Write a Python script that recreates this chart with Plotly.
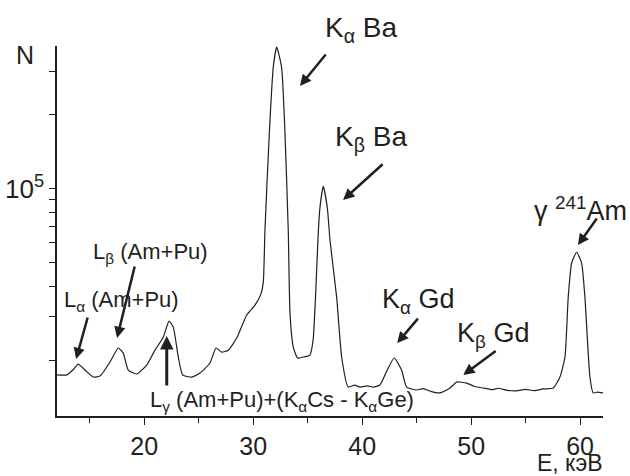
import plotly.graph_objects as go

# Spectrum: energy (keV) and counts
energy = [12.0, 12.9, 13.5, 13.95, 14.57, 15.33, 15.94, 16.86, 17.3, 17.62, 18.08, 18.54, 19.31,
          20.23, 20.99, 21.75, 22.28, 22.67, 23.13, 23.53, 24.36, 25.12, 26.04, 26.59, 27.11,
          27.72, 28.49, 29.40, 30.17, 30.7, 30.93, 31.08, 31.48, 31.84, 32.16, 32.61, 32.92,
          33.22, 33.38, 33.68, 34.08, 34.60, 35.21, 35.5, 35.72, 35.97, 36.13, 36.43, 36.80,
          37.05, 37.66, 38.12, 38.72, 39.3, 39.80, 40.5, 41.0, 41.63, 42.30, 42.94, 43.62,
          44.08, 45.00, 45.6, 46.3, 47.14, 48.0, 48.67, 49.59, 50.3, 51.11, 52.0, 52.5, 53.3,
          54.17, 55.0, 55.8, 56.6, 57.53, 58.15, 58.61, 58.91, 59.22, 59.68, 60.14, 60.44,
          60.90, 61.20, 61.6, 62.12]
counts = [17400, 17400, 18300, 19260, 18200, 17050, 17200, 19640, 21300, 22390, 21330, 18200, 17540,
          19060, 21940, 24770, 28800, 27230, 20570, 17380, 17050, 17700, 19450, 22390, 21530,
          21940, 24570, 30450, 33450, 37000, 41500, 67420, 167400, 310500, 376000, 310500, 167400,
          67420, 31040, 22580, 20380, 20570, 20940, 24120, 36060, 65680, 83740, 101900, 83740,
          61500, 36060, 20570, 15520, 15800, 15520, 15700, 15500, 15810, 18200, 20380, 18200,
          15520, 15100, 15300, 14900, 14690, 15300, 16260, 16110, 15600, 15380, 15150, 15350, 15050,
          14970, 15200, 15000, 15250, 15380, 17050, 20570, 36060, 49550, 54950, 49550, 36060,
          17050, 14690, 14800, 14690]

y_tick_vals = [20000, 30000, 40000, 50000, 60000, 70000, 80000, 90000, 100000, 200000, 300000]
y_tick_text = ["", "", "", "", "", "", "", "", "10<sup>5</sup>", "", ""]
x_tick_vals = [20, 30, 40, 50, 60]

ink = "#231f20"
font = "Liberation Sans, Arial, sans-serif"

fig = go.Figure()
fig.add_trace(go.Scatter(x=energy, y=counts, mode="lines",
                         line=dict(color=ink, width=1.2, shape="spline", smoothing=0.5),
                         hoverinfo="skip", showlegend=False))

fig.update_layout(
    width=630, height=476,
    margin=dict(l=57, r=27, t=46, b=60),
    paper_bgcolor="white", plot_bgcolor="white",
    font=dict(family=font, color=ink, size=26),
    showlegend=False,
)
fig.update_xaxes(range=[12, 62.1], tickvals=x_tick_vals, ticks="outside", ticklen=7,
                 tickwidth=1.3, tickcolor=ink, showline=True, linecolor=ink, linewidth=1.5,
                 showgrid=False, zeroline=False, tickfont=dict(size=25), automargin=False,
                 minor=dict(tickvals=[15, 25, 35, 45, 55], ticks="outside", ticklen=5,
                            tickwidth=1.3, tickcolor=ink))
fig.update_yaxes(type="log", range=[4.073, 5.58], tickvals=y_tick_vals, ticktext=y_tick_text,
                 ticks="outside", ticklen=6, tickwidth=1.3, tickcolor=ink, showline=True,
                 linecolor=ink, linewidth=1.5, showgrid=False, zeroline=False,
                 tickfont=dict(size=26), automargin=False)

def label(text, x, y, size, anchor="left"):
    fig.add_annotation(text=text, x=x, y=y, xref="paper", yref="paper", xanchor=anchor,
                       yanchor="middle", showarrow=False, font=dict(size=size, color=ink))

def arrow(x, y, ax, ay, w=2.5):
    fig.add_annotation(text="", x=x, y=y, xref="paper", yref="paper", ax=ax, ay=ay,
                       showarrow=True, arrowhead=2, arrowsize=0.9, arrowwidth=w,
                       arrowcolor=ink, standoff=0, startstandoff=0)

label("K<sub>α</sub> Ba", 0.487, 1.045, 28)
label("K<sub>β</sub> Ba", 0.505, 0.75, 28)
label("γ <sup>241</sup>Am", 1.047, 0.56, 27, anchor="right")
label("K<sub>α</sub> Gd", 0.591, 0.31, 27)
label("K<sub>β</sub> Gd", 0.729, 0.218, 27)
label("L<sub>α</sub> (Am+Pu)", 0.01, 0.31, 22)
label("L<sub>β</sub> (Am+Pu)", 0.062, 0.44, 22)
label("L<sub>γ</sub> (Am+Pu)+(K<sub>α</sub>Cs - K<sub>α</sub>Ge)", 0.166, 0.04, 22)

arrow(0.445, 0.892, 27, -33)
arrow(0.524, 0.584, 41, -37)
arrow(0.954, 0.462, 20, -28)
arrow(0.623, 0.197, 22, -26)
arrow(0.744, 0.111, 34, -25)
arrow(0.035, 0.154, 12, -43)
arrow(0.110, 0.211, 18, -73)
arrow(0.201, 0.216, 0, 51, 3)

fig.add_annotation(text="N", x=-0.058, y=0.975, xref="paper", yref="paper", xanchor="center",
                   yanchor="middle", showarrow=False, font=dict(size=25, color=ink))
fig.add_annotation(text="E, кэВ", x=1.004, y=-0.127, xref="paper", yref="paper", xanchor="right",
                   yanchor="middle", showarrow=False, font=dict(size=23, color=ink))

fig.write_html("out.html", config={"displayModeBar": False},
               post_script="document.body.style.margin='0';document.body.style.overflow='hidden';")
